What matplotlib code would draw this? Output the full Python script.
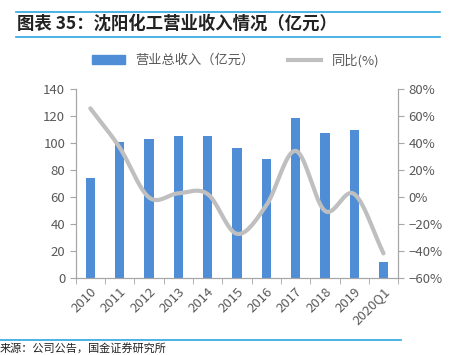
import matplotlib
matplotlib.use("Agg")
import matplotlib.pyplot as plt
from matplotlib.lines import Line2D
import numpy as np

plt.rcParams['font.family'] = ['Noto Sans CJK SC', 'DejaVu Sans']

years = ['2010', '2011', '2012', '2013', '2014', '2015', '2016', '2017', '2018', '2019', '2020Q1']
revenue = [74.1, 100.7, 103.0, 105.4, 105.4, 96.7, 88.4, 119.0, 107.4, 110.0, 12.3]
yoy = [66, 37, 0, 3, 2.5, -27, -6, 34.5, -10, 2.5, -41.5]

BAR = '#4F8DD6'
LINE = '#BFBFBF'
GRAY = '#595959'
AXC = '#A6A6A6'
BLUE = '#2AA6E0'


def smooth(x, y, n=20):
    # catmull-rom through the points, like Excel's smoothed line
    x = np.asarray(x, float)
    y = np.asarray(y, float)
    px = np.concatenate([[2 * x[0] - x[1]], x, [2 * x[-1] - x[-2]]])
    py = np.concatenate([[2 * y[0] - y[1]], y, [2 * y[-1] - y[-2]]])
    xs, ys = [], []
    t = np.linspace(0, 1, n)
    for i in range(1, len(px) - 2):
        for p, out in ((px, xs), (py, ys)):
            p0, p1, p2, p3 = p[i - 1], p[i], p[i + 1], p[i + 2]
            out.extend(0.5 * (2 * p1 + (-p0 + p2) * t + (2 * p0 - 5 * p1 + 4 * p2 - p3) * t ** 2
                              + (-p0 + 3 * p1 - 3 * p2 + p3) * t ** 3))
    return np.array(xs), np.array(ys)


fig = plt.figure(figsize=(4.53, 3.55), dpi=100)
ax = fig.add_axes([0.167, 0.216, 0.712, 0.532])
ax2 = ax.twinx()

x = np.arange(len(years))
ax.bar(x, revenue, width=0.32, color=BAR, zorder=2)
sx, sy = smooth(x, yoy)
ax2.plot(sx, sy, color=LINE, lw=3, solid_capstyle='round', zorder=3)

ax.set_xlim(-0.5, len(years) - 0.5)
ax.set_ylim(0, 140)
ax.set_yticks(range(0, 141, 20))
ax2.set_ylim(-60, 80)
ax2.set_yticks(range(-60, 81, 20))
ax2.set_yticklabels([f'{v}%'.replace('-', '\u2212') for v in range(-60, 81, 20)])

ax.set_xticks(x)
ax.set_xticklabels(years, rotation=45, ha='right', rotation_mode='anchor')
ax.set_xticks(np.arange(-0.5, len(years)), minor=True)
ax.tick_params(axis='x', which='major', length=0, pad=5, labelsize=9.5, labelcolor=GRAY)
ax.tick_params(axis='x', which='minor', length=4, color=AXC, direction='out')

ax.tick_params(axis='y', length=4, color=AXC, labelsize=9.5, labelcolor=GRAY)
ax2.tick_params(axis='y', length=4, color=AXC, labelsize=9.5, labelcolor=GRAY)

for a in (ax, ax2):
    a.spines['top'].set_visible(False)
    for s in ('left', 'right', 'bottom'):
        a.spines[s].set_color(AXC)
ax2.set_zorder(ax.get_zorder() + 1)
ax2.patch.set_visible(False)

handles = [plt.Rectangle((0, 0), 1, 1, color=BAR), Line2D([0], [0], color=LINE, lw=3)]
fig.legend(handles, ['营业总收入（亿元）', '同比(%)'], loc='center', bbox_to_anchor=(0.52, 0.83),
           ncol=2, frameon=False, fontsize=9.5, labelcolor=GRAY, handlelength=2.5,
           handleheight=0.6, columnspacing=2.5)

fig.text(0.038, 0.932, '图表 35：沈阳化工营业收入情况（亿元）', fontsize=12.5, fontweight='bold',
         color='#222222', va='center', style='italic')
fig.add_artist(Line2D([0.035, 0.972], [0.966, 0.966], color=BLUE, lw=1.2))
fig.add_artist(Line2D([0.035, 0.972], [0.896, 0.896], color=BLUE, lw=1.2))
fig.add_artist(Line2D([0.0, 0.885], [0.042, 0.042], color=BLUE, lw=1.2))
fig.text(0.0, 0.018, '来源：公司公告，国金证券研究所', fontsize=8, color='#222222', va='center')

fig.savefig('out.png', dpi=100)
